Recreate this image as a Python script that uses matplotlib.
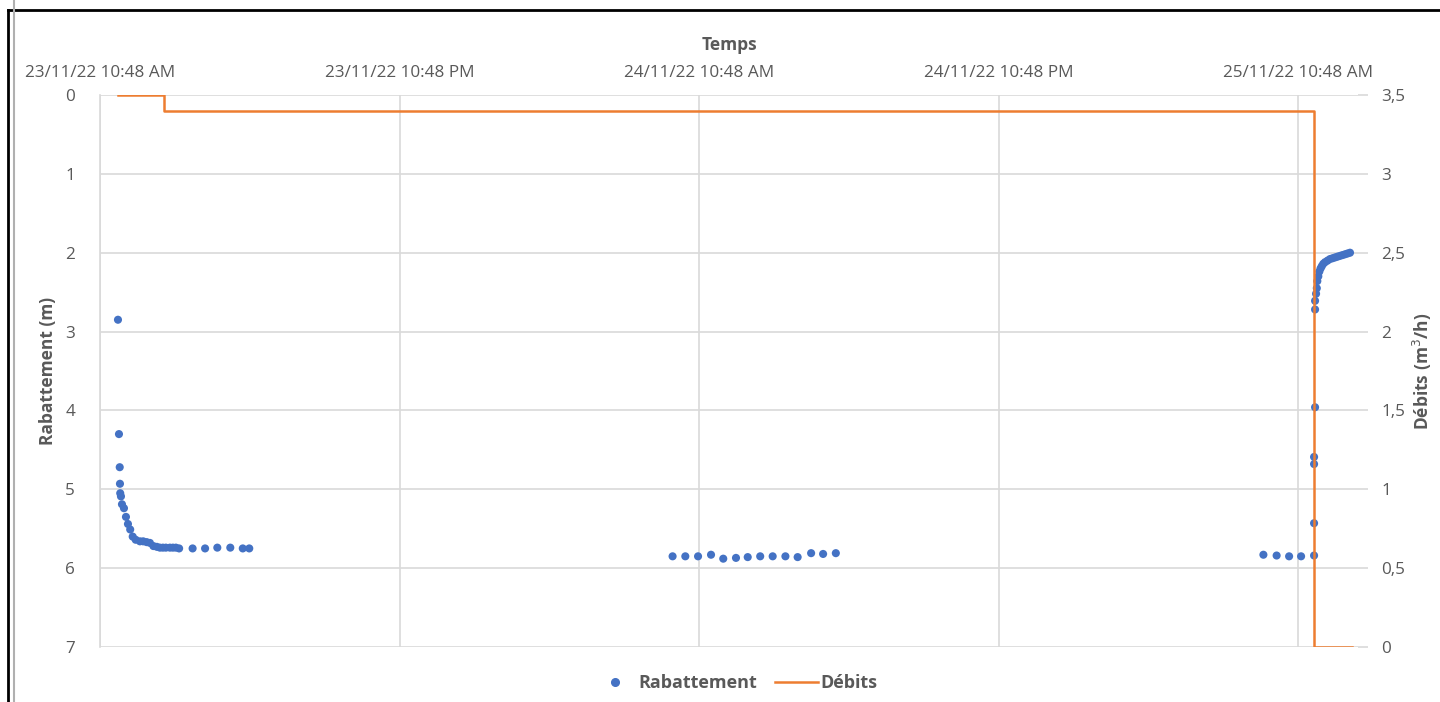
"""
Essai de pompage : rabattement (m) et débits (m3/h) en fonction du temps.
Saves out.png (1440x702).
"""

from datetime import datetime, timedelta

import matplotlib
matplotlib.use("Agg")
import matplotlib.dates as mdates
import matplotlib.pyplot as plt
from matplotlib.lines import Line2D

plt.rcParams["font.family"] = ["Open Sans", "DejaVu Sans"]

START = datetime(2022, 11, 23, 10, 48)

# --- data (hours after 23/11/22 10:48) -------------------------------------
rab_hours = [
    0.72, 0.76, 0.79, 0.80, 0.81, 0.84, 0.88, 0.96, 1.04, 1.12, 1.21, 1.31,
    1.43, 1.60, 1.73, 1.87, 2.00, 2.14, 2.28, 2.40, 2.52, 2.64, 2.80, 2.92,
    3.04, 3.17, 3.71, 4.21, 4.70, 5.22, 5.72, 5.98,
    22.94, 23.45, 23.96, 24.48, 24.97, 25.48, 25.95, 26.45, 26.95, 27.46,
    27.95, 28.49, 28.97, 29.48,
    46.61, 47.14, 47.64, 48.12, 48.64, 48.64, 48.64, 48.64, 48.68, 48.68,
    48.68, 48.72, 48.75, 48.77, 48.81, 48.85, 48.90, 48.95, 49.01, 49.08,
    49.18, 49.28, 49.38, 49.48, 49.58, 49.68, 49.78, 49.88, 49.98, 50.08,
]
rab_m = [
    2.85, 4.30, 4.72, 4.93, 5.05, 5.09, 5.19, 5.24, 5.35, 5.44, 5.51, 5.60,
    5.64, 5.66, 5.66, 5.67, 5.68, 5.72, 5.73, 5.74, 5.74, 5.74, 5.74, 5.74,
    5.74, 5.75, 5.75, 5.75, 5.74, 5.74, 5.75, 5.75,
    5.85, 5.85, 5.85, 5.83, 5.88, 5.87, 5.86, 5.85, 5.85, 5.85,
    5.86, 5.81, 5.82, 5.81,
    5.83, 5.84, 5.85, 5.85, 5.84, 5.43, 4.68, 4.59, 3.96, 2.72,
    2.61, 2.52, 2.45, 2.36, 2.30, 2.24, 2.20, 2.17, 2.14, 2.12,
    2.10, 2.08, 2.07, 2.06, 2.05, 2.04, 2.03, 2.02, 2.01, 2.00,
]

deb_hours = [0.72, 2.56, 2.56, 48.62, 48.62, 50.16]
deb_m3h = [3.5, 3.5, 3.4, 3.4, 0.0, 0.0]

y_left_ticks = [0, 1, 2, 3, 4, 5, 6, 7]
y_right_ticks = [0, 0.5, 1, 1.5, 2, 2.5, 3, 3.5]

BLUE = "#4472c4"
ORANGE = "#ed7d31"
GRID = "#d9d9d9"
TXT = "#595959"


def to_dates(hours):
    return [START + timedelta(hours=h) for h in hours]


def main():
    fig = plt.figure(figsize=(14.4, 7.02), dpi=100)
    ax = fig.add_axes([100 / 1440, 1 - 647 / 702, 1258 / 1440, 552 / 702])
    ax2 = ax.twinx()

    ax.scatter(to_dates(rab_hours), rab_m, s=34, color=BLUE, zorder=3,
               edgecolors="none")
    ax2.plot(to_dates(deb_hours), deb_m3h, color=ORANGE, lw=1.8)

    # x axis on top, one tick every 12 h
    ax.set_xlim(START, START + timedelta(hours=50.4))
    ax.xaxis.set_ticks([START + timedelta(hours=12 * k) for k in range(5)])
    ax.xaxis.set_major_formatter(mdates.DateFormatter("%d/%m/%y %I:%M %p"))
    ax.xaxis.tick_top()
    ax.xaxis.set_label_position("top")
    ax.set_xlabel("Temps", fontsize=12.5, fontweight="bold", color=TXT,
                  labelpad=11)

    ax.set_ylim(7, 0)
    ax.set_yticks(y_left_ticks)
    ax.set_ylabel("Rabattement (m)", fontsize=12.5, fontweight="bold",
                  color=TXT, labelpad=6)

    ax2.set_ylim(0, 3.5)
    ax2.set_yticks(y_right_ticks)
    ax2.set_yticklabels([f"{v:g}".replace(".", ",") for v in y_right_ticks])
    ax2.set_ylabel("Débits (m$^3$/h)", fontsize=12.5, fontweight="bold",
                   color=TXT, labelpad=4)

    ax.grid(True, color=GRID, lw=1.2)
    ax.set_axisbelow(True)
    for a in (ax, ax2):
        for s in a.spines.values():
            s.set_visible(False)
    ax.spines["left"].set_visible(True)
    ax.spines["left"].set_color(GRID)
    ax.spines["left"].set_linewidth(1.2)
    ax.tick_params(axis="x", length=0, labelsize=12.3, labelcolor=TXT, pad=10)
    ax.tick_params(axis="y", length=0, labelsize=12.3, labelcolor=TXT, pad=18)
    ax2.tick_params(axis="y", length=7, width=1.2, color=GRID, labelsize=12.3,
                    labelcolor=TXT, pad=10)

    handles = [
        Line2D([], [], ls="none", marker="o", ms=5.5, color=BLUE),
        Line2D([], [], color=ORANGE, lw=1.8),
    ]
    fig.legend(handles, ["Rabattement", "Débits"], loc="center",
               bbox_to_anchor=(735 / 1440, 1 - 683 / 702), ncol=2,
               frameon=False, handlelength=2.4, handletextpad=0.1,
               columnspacing=1.0, prop={"size": 13, "weight": "bold"},
               labelcolor=TXT)

    # surrounding frame of the screenshot
    fig.add_artist(Line2D([8 / 1440, 1], [1 - 10 / 702] * 2, color="black",
                          lw=2, transform=fig.transFigure))
    fig.add_artist(Line2D([8 / 1440] * 2, [0, 1 - 10 / 702], color="black",
                          lw=2, transform=fig.transFigure))
    fig.add_artist(Line2D([14 / 1440] * 2, [0, 1], color="#b0b0b0",
                          lw=1.5, transform=fig.transFigure))

    fig.savefig("out.png", dpi=100)


if __name__ == "__main__":
    main()
